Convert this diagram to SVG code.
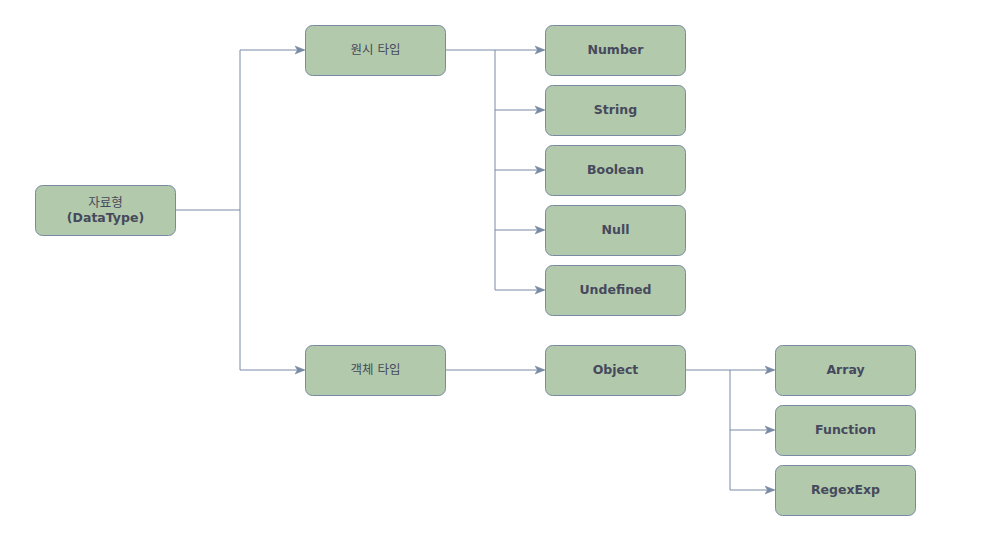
<svg xmlns="http://www.w3.org/2000/svg" width="984" height="539" viewBox="0 0 984 539">
<style>
.n{fill:#B2C9AB;stroke:#788AA3;stroke-width:1}
.t{font-family:"DejaVu Sans","Noto Sans CJK KR",sans-serif;font-size:12.5px;fill:#46495D;text-anchor:middle;dominant-baseline:central}
.b{font-weight:bold}
.c{fill:none;stroke:#788AA3;stroke-width:1}
</style>
<defs>
<marker id="a" viewBox="0 0 10 10" refX="9" refY="5" markerWidth="10" markerHeight="10" markerUnits="userSpaceOnUse" orient="auto">
<path d="M0,1 L10,5 L0,9 L2.5,5 Z" fill="#788AA3" stroke="#788AA3" stroke-width="0.5"/>
</marker>
</defs>
<rect width="984" height="539" fill="#fff"/>
<g id="connectors">
<path class="c" d="M175,210 H240 V50 H304" marker-end="url(#a)"/>
<path class="c" d="M240,210 V370 H304" marker-end="url(#a)"/>
<path class="c" d="M445,50 H544" marker-end="url(#a)"/>
<path class="c" d="M495,50 V110 H544" marker-end="url(#a)"/>
<path class="c" d="M495,110 V170 H544" marker-end="url(#a)"/>
<path class="c" d="M495,170 V230 H544" marker-end="url(#a)"/>
<path class="c" d="M495,230 V290 H544" marker-end="url(#a)"/>
<path class="c" d="M445,370 H544" marker-end="url(#a)"/>
<path class="c" d="M685,370 H774" marker-end="url(#a)"/>
<path class="c" d="M730,370 V430 H774" marker-end="url(#a)"/>
<path class="c" d="M730,430 V490 H774" marker-end="url(#a)"/>
</g>
<g id="root"><rect class="n" x="35.5" y="185.5" width="140" height="50" rx="7"/><text class="t" x="105.5" y="202">자료형</text><text class="t b" x="105.5" y="217">(DataType)</text></g>
<g id="primitive"><rect class="n" x="305.5" y="25.5" width="140" height="50" rx="7"/><text class="t" x="375.5" y="49">원시 타입</text></g>
<g id="objtype"><rect class="n" x="305.5" y="345.5" width="140" height="50" rx="7"/><text class="t" x="375.5" y="369">객체 타입</text></g>
<g id="number"><rect class="n" x="545.5" y="25.5" width="140" height="50" rx="7"/><text class="t b" x="615.5" y="49">Number</text></g>
<g id="string"><rect class="n" x="545.5" y="85.5" width="140" height="50" rx="7"/><text class="t b" x="615.5" y="109">String</text></g>
<g id="boolean"><rect class="n" x="545.5" y="145.5" width="140" height="50" rx="7"/><text class="t b" x="615.5" y="169">Boolean</text></g>
<g id="null"><rect class="n" x="545.5" y="205.5" width="140" height="50" rx="7"/><text class="t b" x="615.5" y="229">Null</text></g>
<g id="undefined"><rect class="n" x="545.5" y="265.5" width="140" height="50" rx="7"/><text class="t b" x="615.5" y="289">Undefined</text></g>
<g id="object"><rect class="n" x="545.5" y="345.5" width="140" height="50" rx="7"/><text class="t b" x="615.5" y="369">Object</text></g>
<g id="array"><rect class="n" x="775.5" y="345.5" width="140" height="50" rx="7"/><text class="t b" x="845.5" y="369">Array</text></g>
<g id="function"><rect class="n" x="775.5" y="405.5" width="140" height="50" rx="7"/><text class="t b" x="845.5" y="429">Function</text></g>
<g id="regexexp"><rect class="n" x="775.5" y="465.5" width="140" height="50" rx="7"/><text class="t b" x="845.5" y="489">RegexExp</text></g>
</svg>
